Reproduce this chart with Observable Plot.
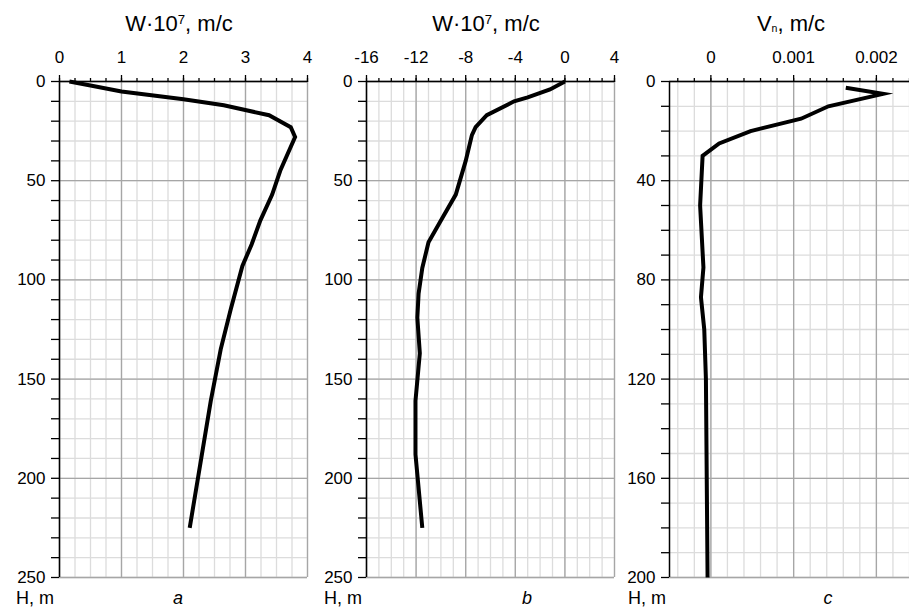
<!DOCTYPE html>
<html><head><meta charset="utf-8">
<script src="https://cdn.jsdelivr.net/npm/d3@7"></script>
<script src="https://cdn.jsdelivr.net/npm/@observablehq/plot@0.6"></script>
<style>
body{margin:0;background:#fff;}
#wrap{position:relative;width:909px;height:609px;font-family:"Liberation Sans",Arial,sans-serif;color:#000;overflow:hidden;background:#fff}
.plotbox{position:absolute;top:0;}
.lbl{position:absolute;white-space:nowrap;line-height:1}
.title{font-size:22px;transform:translateX(-50%);top:13px}
.title sup{font-size:0.6em;vertical-align:0;position:relative;top:-0.55em}
.title sub{font-size:0.48em;vertical-align:0;position:relative;top:0.06em}
.bot{font-size:18px;top:589px}
</style></head><body><div id="wrap"></div><script>
// ---- data ----
// panel a: depth H (m) and W·10^7 (m/c)
const aH = [0, 2, 5, 9, 12, 17, 23, 28, 45, 57, 70, 82, 93, 115, 135, 161, 225];
const aW = [0.16, 0.5, 1.0, 2.0, 2.65, 3.38, 3.73, 3.8, 3.56, 3.43, 3.24, 3.1, 2.95, 2.76, 2.6, 2.44, 2.1];
// panel b: depth H (m) and W·10^7 (m/c)
const bH = [0, 4, 8, 10, 17, 23, 27, 40, 57, 70, 81, 94, 107, 119, 137, 161, 188, 225];
const bW = [0, -1.2, -3.0, -4.1, -6.3, -7.2, -7.5, -8.0, -8.8, -10.0, -11.0, -11.5, -11.8, -11.9, -11.7, -12.05, -12.05, -11.5];
// panel c: depth H (m) and Vn (m/c)
const cH = [2.5, 5, 10, 15, 20, 25, 30, 50, 75, 87, 100, 120, 200];
const cV = [0.00163, 0.00208, 0.00142, 0.00109, 0.00048, 0.0001, -0.0001, -0.00013, -0.00009, -0.00012, -0.00008, -0.00006, -0.00004];

// axes / tick definitions
const aXDomain = [0, 4], aXMajor = [0, 1, 2, 3, 4], aXMinor = d3.range(0, 17).map(i => i * 0.25);
const bXDomain = [-16, 4], bXMajor = [-16, -12, -8, -4, 0, 4], bXMinor = d3.range(-16, 5);
const cXDomain = [-0.0005, 0.0024], cXMajor = [0, 0.001, 0.002], cXMinor = d3.range(-2, 13).map(i => +(i * 0.0002).toFixed(4));
const abYDomain = [0, 250], abYMajor = [0, 50, 100, 150, 200, 250], abYMinor = d3.range(0, 251, 10);
const cYDomain = [0, 200], cYMajor = [0, 40, 80, 120, 160, 200], cYMinor = d3.range(0, 201, 10);

const titles = ["W·10<sup>7</sup>, m/c", "W·10<sup>7</sup>, m/c", "V<sub>n</sub>, m/c"];
const yName = "H, m";
const letters = ["a", "b", "c"];

function panel(o) {
  const labeled = new Set(o.yMajor);
  const data = o.h.map((h, i) => ({h, w: o.w[i]}));
  return Plot.plot({
    width: o.width, height: 609, marginTop: 81, marginBottom: 32,
    marginLeft: o.marginLeft, marginRight: o.marginRight,
    style: {background: "transparent", overflow: "visible", fontFamily: "Liberation Sans, Arial, sans-serif", fontSize: "17px", color: "#000"},
    x: {domain: o.xDomain},
    y: {domain: o.yDomain, reverse: true},
    marks: [
      Plot.gridX(o.xMinor, {stroke: "#dcdcdc", strokeOpacity: 1, strokeWidth: 1.3}),
      Plot.gridY(o.yMinor, {stroke: "#dcdcdc", strokeOpacity: 1, strokeWidth: 1.3}),
      Plot.gridX(o.xMajor, {stroke: "#a6a6a6", strokeOpacity: 1, strokeWidth: 1.3}),
      Plot.gridY(o.yMajor, {stroke: "#a6a6a6", strokeOpacity: 1, strokeWidth: 1.3}),
      Plot.line(data, {x: "w", y: "h", stroke: "#000", strokeWidth: 4, strokeLinejoin: "miter", strokeLinecap: "butt", strokeMiterlimit: 10}),
      Plot.axisX(o.xMinor, {anchor: "top", tickSize: 4, tickFormat: () => "", label: null, strokeWidth: 1.3}),
      Plot.axisX(o.xMajor, {anchor: "top", tickSize: 7, tickPadding: 12, tickFormat: d => String(d), label: null, fontSize: 17, strokeWidth: 1.3}),
      Plot.axisY(o.yMinor, {anchor: "left", tickSize: 8, tickPadding: 6, tickFormat: d => labeled.has(d) ? String(d) : "", label: null, fontSize: 17, strokeWidth: 1.3}),
      Plot.ruleY([o.yDomain[0]], {stroke: "#000", strokeWidth: 1.5}),
      Plot.ruleX([o.xDomain[0]], {stroke: "#000", strokeWidth: 1.5})
    ]
  });
}

const wrap = document.getElementById("wrap");
const specs = [
  {left: 0, width: 320, marginLeft: 59, marginRight: 13, h: aH, w: aW, xDomain: aXDomain, xMajor: aXMajor, xMinor: aXMinor, yDomain: abYDomain, yMajor: abYMajor, yMinor: abYMinor, titleX: 179, yNameRight: 54, letterX: 178},
  {left: 315, width: 309, marginLeft: 51, marginRight: 10, h: bH, w: bW, xDomain: bXDomain, xMajor: bXMajor, xMinor: bXMinor, yDomain: abYDomain, yMajor: abYMajor, yMinor: abYMinor, titleX: 486, yNameRight: 362, letterX: 527},
  {left: 620, width: 289, marginLeft: 49, marginRight: 0, h: cH, w: cV, xDomain: cXDomain, xMajor: cXMajor, xMinor: cXMinor, yDomain: cYDomain, yMajor: cYMajor, yMinor: cYMinor, titleX: 791, yNameRight: 666, letterX: 828}
];
specs.forEach((s, i) => {
  const box = document.createElement("div");
  box.className = "plotbox";
  box.style.left = s.left + "px";
  box.style.width = s.width + "px";
  box.appendChild(panel(s));
  wrap.appendChild(box);

  const t = document.createElement("div");
  t.className = "lbl title";
  t.style.left = s.titleX + "px";
  t.innerHTML = titles[i];
  wrap.appendChild(t);

  const hn = document.createElement("div");
  hn.className = "lbl bot";
  hn.style.right = (909 - s.yNameRight) + "px";
  hn.textContent = yName;
  wrap.appendChild(hn);

  const lt = document.createElement("div");
  lt.className = "lbl bot";
  lt.style.left = s.letterX + "px";
  lt.style.transform = "translateX(-50%)";
  lt.style.fontStyle = "italic";
  lt.textContent = letters[i];
  wrap.appendChild(lt);
});
</script></body></html>
